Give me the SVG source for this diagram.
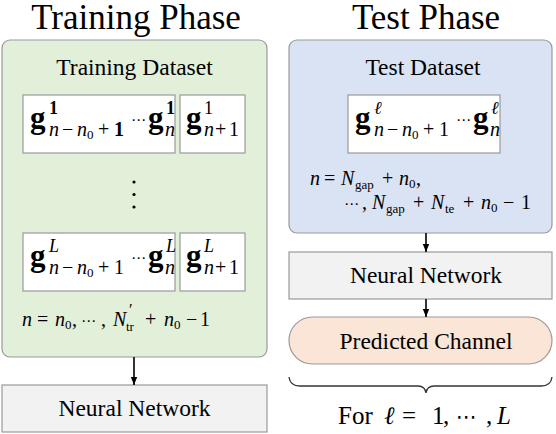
<svg xmlns="http://www.w3.org/2000/svg" width="556" height="434" viewBox="0 0 556 434" font-family="'Liberation Serif', 'Times New Roman', 'DejaVu Serif', serif">
<style>
text{fill:#000}
.title{font-size:35px;text-anchor:middle}
.lbl{font-size:23.5px;text-anchor:middle}
.g{font-size:31px;font-weight:bold}
.sp{font-size:18px}
.it{font-style:italic}
.m{font-size:20px}
.s{font-size:13px}
.box{fill:#fff;stroke:#9a9a9a;stroke-width:1.2}
.dots{font-family:"DejaVu Sans",sans-serif;font-size:15px}
.conn{stroke:#000;stroke-width:1.6;fill:none}
</style>
<defs>
<marker id="ah" viewBox="0 0 10 10" refX="10" refY="5" markerWidth="8" markerHeight="8" markerUnits="userSpaceOnUse" orient="auto">
<path d="M0,1 L10,5 L0,9 z" fill="#000"/>
</marker>
</defs>

<text class="title" x="136" y="29">Training Phase</text>
<text class="title" x="426" y="29">Test Phase</text>

<g id="training-dataset">
<rect x="2" y="40" width="265" height="317" rx="8" fill="#e2efd9" stroke="#9a9a9a" stroke-width="1.2"/>
<text class="lbl" x="134.5" y="75">Training Dataset</text>
</g>

<g id="train-seq-1">
<rect class="box" x="23" y="95" width="152" height="58"/>
<text class="g" x="30" y="128">g</text>
<text class="sp" x="49" y="114" font-weight="bold">1</text>
<text class="m"><tspan class="it" x="49" y="136">n</tspan><tspan x="62">−</tspan><tspan class="it" x="77">n</tspan><tspan class="s" x="87" y="139">0</tspan><tspan x="98" y="136">+</tspan><tspan x="114" font-weight="bold">1</tspan></text>
<text class="dots" x="131" y="125">⋯</text>
<text class="g" x="148" y="128">g</text>
<text class="sp" x="166" y="114" font-weight="bold">1</text>
<text class="m it" x="165" y="136">n</text>
</g>
<g id="train-target-1">
<rect class="box" x="180" y="95" width="65" height="58"/>
<text class="g" x="186" y="128">g</text>
<text class="sp" x="204" y="114">1</text>
<text class="m"><tspan class="it" x="204" y="136">n</tspan><tspan x="215">+</tspan><tspan x="229">1</tspan></text>
</g>

<g id="vdots">
<circle cx="134" cy="182" r="1.6"/>
<circle cx="134" cy="194.5" r="1.6"/>
<circle cx="134" cy="207" r="1.6"/>
</g>

<g id="train-seq-L">
<rect class="box" x="23" y="233" width="152" height="58"/>
<text class="g" x="30" y="266">g</text>
<text class="sp it" x="49" y="252">L</text>
<text class="m"><tspan class="it" x="49" y="274">n</tspan><tspan x="62">−</tspan><tspan class="it" x="77">n</tspan><tspan class="s" x="87" y="277">0</tspan><tspan x="98" y="274">+</tspan><tspan x="114">1</tspan></text>
<text class="dots" x="131" y="263">⋯</text>
<text class="g" x="148" y="266">g</text>
<text class="sp it" x="166" y="252">L</text>
<text class="m it" x="165" y="274">n</text>
</g>
<g id="train-target-L">
<rect class="box" x="180" y="233" width="65" height="58"/>
<text class="g" x="186" y="266">g</text>
<text class="sp it" x="204" y="252">L</text>
<text class="m"><tspan class="it" x="204" y="274">n</tspan><tspan x="215">+</tspan><tspan x="229">1</tspan></text>
</g>

<text class="m"><tspan class="it" x="22" y="326">n</tspan><tspan x="37">=</tspan><tspan class="it" x="55">n</tspan><tspan class="s" x="65" y="329">0</tspan><tspan x="72" y="326">,</tspan><tspan class="dots" x="81">⋯</tspan><tspan x="101">,</tspan><tspan class="it" x="113">N</tspan><tspan style="font-size:16px" x="129" y="315">′</tspan><tspan class="s" x="126" y="331">tr</tspan><tspan x="145" y="326">+</tspan><tspan class="it" x="164">n</tspan><tspan class="s" x="174" y="329">0</tspan><tspan x="186" y="326">−</tspan><tspan x="200">1</tspan></text>

<g id="nn-train">
<rect x="2" y="385" width="265" height="47" fill="#f2f2f2" stroke="#9a9a9a" stroke-width="1.2"/>
<text class="lbl" x="134.5" y="416">Neural Network</text>
</g>

<g id="test-dataset">
<rect x="289" y="40" width="263" height="193" rx="8" fill="#dae3f3" stroke="#9a9a9a" stroke-width="1.2"/>
<text class="lbl" x="423" y="75">Test Dataset</text>
</g>
<g id="test-seq">
<rect class="box" x="348" y="95" width="152" height="58"/>
<text class="g" x="355" y="128">g</text>
<text class="sp it" x="374" y="114">ℓ</text>
<text class="m"><tspan class="it" x="374" y="136">n</tspan><tspan x="387">−</tspan><tspan class="it" x="402">n</tspan><tspan class="s" x="412" y="139">0</tspan><tspan x="423" y="136">+</tspan><tspan x="439">1</tspan></text>
<text class="dots" x="456" y="125">⋯</text>
<text class="g" x="473" y="128">g</text>
<text class="sp it" x="491" y="114">ℓ</text>
<text class="m it" x="490" y="136">n</text>
</g>
<g id="test-range">
<text class="m"><tspan class="it" x="310" y="185">n</tspan><tspan x="324">=</tspan><tspan class="it" x="341">N</tspan><tspan class="s" x="355" y="189">gap</tspan><tspan x="382" y="185">+</tspan><tspan class="it" x="399">n</tspan><tspan class="s" x="409" y="188">0</tspan><tspan x="416" y="185">,</tspan></text>
<text class="m"><tspan class="dots" x="344" y="209">⋯</tspan><tspan x="362">,</tspan><tspan class="it" x="372">N</tspan><tspan class="s" x="386" y="213">gap</tspan><tspan x="413" y="209">+</tspan><tspan class="it" x="431">N</tspan><tspan class="s" x="445" y="213">te</tspan><tspan x="463" y="209">+</tspan><tspan class="it" x="481">n</tspan><tspan class="s" x="491" y="212">0</tspan><tspan x="503" y="209">−</tspan><tspan x="521">1</tspan></text>
</g>

<g id="nn-test">
<rect x="289" y="252" width="263" height="47" fill="#f2f2f2" stroke="#9a9a9a" stroke-width="1.2"/>
<text class="lbl" x="426" y="283">Neural Network</text>
</g>

<g id="predicted-channel">
<rect x="289" y="317" width="263" height="47" rx="23.5" fill="#fbe5d6" stroke="#9a9a9a" stroke-width="1.2"/>
<text class="lbl" x="426" y="349">Predicted Channel</text>
</g>

<g id="brace">
<path d="M289,377 Q290,386 300,386 L418,386 Q425,386 426,393 Q427,386 434,386 L541,386 Q551,386 552,377" fill="none" stroke="#333" stroke-width="1.3"/>
<text style="font-size:25px"><tspan x="338" y="424">For</tspan><tspan class="it" x="384">ℓ</tspan><tspan x="402">=</tspan><tspan x="432">1</tspan><tspan x="443">,</tspan><tspan class="dots" style="font-size:21px" x="456">⋯</tspan><tspan x="486">,</tspan><tspan class="it" x="497">L</tspan></text>
</g>

<g id="connectors">
<line class="conn" x1="134" y1="357" x2="134" y2="385" marker-end="url(#ah)"/>
<line class="conn" x1="426" y1="233" x2="426" y2="252" marker-end="url(#ah)"/>
<line class="conn" x1="426" y1="299" x2="426" y2="317" marker-end="url(#ah)"/>
</g>
</svg>
